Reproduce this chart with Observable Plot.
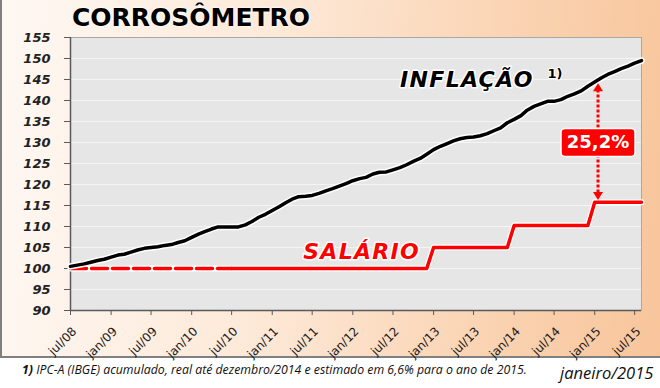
<!DOCTYPE html>
<html><head><meta charset="utf-8">
<script src="https://cdn.jsdelivr.net/npm/d3@7"></script>
<script src="https://cdn.jsdelivr.net/npm/@observablehq/plot@0.6"></script>
<style>
html,body{margin:0;padding:0;background:#fff;}
#wrap{position:relative;width:660px;height:388px;overflow:hidden;}
#box{position:absolute;left:0;top:0;width:658px;height:356px;border-left:2px solid #808080;border-bottom:2px solid #808080;
 background:linear-gradient(95deg,#fef8f3 0%,#fde9d8 40%,#fad3b2 75%,#f8c59b 100%);}
#title{position:absolute;left:72px;top:3px;font-family:"DejaVu Sans";font-weight:bold;font-size:25px;color:#000;text-shadow:0 0 3px #fff,0 0 2px #fff;white-space:nowrap;}
#chart{position:absolute;left:0;top:0;}
#note{position:absolute;left:22px;top:361px;font-family:"Open Sans";font-style:italic;font-size:12.3px;color:#111;white-space:nowrap;}
#date{position:absolute;left:560px;top:361px;font-family:"Open Sans";font-style:italic;font-size:16.5px;color:#111;white-space:nowrap;}
svg text{paint-order:stroke;}
</style></head>
<body>
<div id="wrap">
 <div id="box"></div>
 <div id="chart"></div>
 <div id="title">CORROSÔMETRO</div>
 <div id="note"><b>1)</b> IPC-A (IBGE) acumulado, real até dezembro/2014 e estimado em 6,6% para o ano de 2015.</div>
 <div id="date">janeiro/2015</div>
</div>
<script>
// ---- data ----
const firstMonth = "2008-07";
const lastMonth = "2015-08";
const inflation = [
 100.5,100.8,101.1,101.5,101.9,102.2,
 102.7,103.2,103.4,103.9,104.4,104.8,105.0,105.2,105.5,105.7,106.2,106.6,
 107.4,108.2,108.8,109.4,109.9,109.9,109.9,109.9,110.4,111.2,112.2,112.9,
 113.8,114.7,115.6,116.5,117.1,117.2,117.4,117.9,118.5,119.0,119.6,120.2,
 120.9,121.4,121.7,122.5,122.9,123.0,123.5,124.0,124.7,125.5,126.2,127.2,
 128.3,129.1,129.7,130.4,130.9,131.2,131.3,131.6,132.1,132.8,133.5,134.7,
 135.5,136.4,137.7,138.6,139.2,139.8,139.8,140.2,141.0,141.6,142.3,143.4,
 144.4,145.4,146.2,146.9,147.6,148.2,148.9,149.5
];
const salaryMonths = ["2008-07","2010-07","2012-12","2013-01","2013-12","2014-01","2014-12","2015-01","2015-08"];
const salaryValues = [100,100,100,105,105,110.25,110.25,115.76,115.76];
const gapLabel = "25,2%";
const xTickLabels = ["jul/08","jan/09","jul/09","jan/10","jul/10","jan/11","jul/11","jan/12","jul/12","jan/13","jul/13","jan/14","jul/14","jan/15","jul/15"];
const yTicks = [90,95,100,105,110,115,120,125,130,135,140,145,150,155];

// ---- helpers ----
const parseMonth = s => { const [y,m] = s.split("-").map(Number); return new Date(Date.UTC(y, m-1, 1)); };
const monIdx = {jan:0, jul:6};
const parseTick = s => { const [m,y] = s.split("/"); return new Date(Date.UTC(2000+ +y, monIdx[m], 1)); };
const d0 = parseMonth(firstMonth), dEnd = parseMonth(lastMonth);
const infl = inflation.map((v,i) => ({date: d3.utcMonth.offset(d0, i), value: v}));
const sal = salaryMonths.map((m,i) => ({date: parseMonth(m), value: salaryValues[i]}));
const salDashed = sal.slice(0,2), salSolid = sal.slice(1);
const xTicks = xTickLabels.map(parseTick);
const arrowDate = new Date(Date.UTC(2015,0,16));

const badge = {draw(ctx){ const w=37, h=14, r=4;
  ctx.moveTo(-w+r,-h); ctx.arcTo(w,-h,w,h,r); ctx.arcTo(w,h,-w,h,r); ctx.arcTo(-w,h,-w,-h,r); ctx.arcTo(-w,-h,w,-h,r); ctx.closePath(); }};
const headUp = {draw(ctx){ ctx.moveTo(0,0); ctx.lineTo(5,8); ctx.lineTo(-5,8); ctx.closePath(); }};
const headDown = {draw(ctx){ ctx.moveTo(0,0); ctx.lineTo(5,-8); ctx.lineTo(-5,-8); ctx.closePath(); }};
const RED = "#ff0000";

const chart = Plot.plot({
  width: 660, height: 358,
  marginLeft: 70, marginRight: 19, marginTop: 37, marginBottom: 48,
  style: {background: "transparent", overflow: "visible"},
  x: {type: "utc", domain: [d0, dEnd], label: null},
  y: {domain: [90, 155], label: null},
  marks: [
    Plot.frame({fill: "#e6e6e6", stroke: null}),
    Plot.ruleY(yTicks, {stroke: "#f4f4f4", strokeWidth: 1}),
    Plot.frame({stroke: "#a8a8a8"}),
    Plot.ruleX([d0], {stroke: "#5a5a5a", strokeWidth: 1.5}),
    Plot.ruleY([90], {stroke: "#5a5a5a", strokeWidth: 1.5}),
    Plot.axisY({ticks: yTicks, tickSize: 6, tickFormat: () => "", stroke: "#5a5a5a", label: null}),
    Plot.axisX({ticks: xTicks, tickSize: 5, tickFormat: () => "", stroke: "#5a5a5a", label: null}),
    Plot.text(yTicks, {y: d => d, text: d => String(d), frameAnchor: "left", dx: -20, textAnchor: "end",
      fontSize: 13, fontWeight: "bold", fontStyle: "italic", fontFamily: "DejaVu Sans", fill: "#222"}),
    Plot.text(xTicks, {x: d => d, text: (d,i) => xTickLabels[i], frameAnchor: "bottom", rotate: -45,
      textAnchor: "end", lineAnchor: "middle", dx: 4, dy: 19, fontSize: 12, fontFamily: "DejaVu Sans", fill: "#1a1a1a"}),
    // salary
    Plot.line(sal, {x: "date", y: "value", stroke: "#fff", strokeWidth: 6}),
    Plot.line(salDashed, {x: "date", y: "value", stroke: RED, strokeWidth: 3.5, strokeDasharray: "16,5"}),
    Plot.line(salSolid, {x: "date", y: "value", stroke: RED, strokeWidth: 3.5}),
    // inflation
    Plot.line(infl, {x: "date", y: "value", stroke: "#fff", strokeWidth: 6.5}),
    Plot.line(infl, {x: "date", y: "value", stroke: "#000", strokeWidth: 3.5}),
    // labels
    Plot.text(["INFLAÇÃO"], {x: new Date(Date.UTC(2013,5,1)), y: 144.8, text: d => d, fontSize: 22, fontWeight: "bold",
      fontStyle: "italic", fontFamily: "DejaVu Sans", fill: "#000", stroke: "#fff", strokeWidth: 3}),
    Plot.text(["1)"], {x: new Date(Date.UTC(2014,6,5)), y: 146.3, text: d => d, fontSize: 13, fontWeight: "bold",
      fontFamily: "DejaVu Sans", fill: "#000", stroke: "#fff", strokeWidth: 2}),
    Plot.text(["SALÁRIO"], {x: new Date(Date.UTC(2012,1,10)), y: 104.0, text: d => d, fontSize: 22, fontWeight: "bold",
      fontStyle: "italic", fontFamily: "DejaVu Sans", fill: RED, stroke: "#fff", strokeWidth: 3}),
    // gap arrow
    Plot.ruleX([arrowDate], {x: d => d, y1: 142.5, y2: 117.8, stroke: RED, strokeWidth: 3, strokeDasharray: "3,2"}),
    Plot.dot([arrowDate], {x: d => d, y: 144.1, symbol: headUp, r: 5, fill: RED, stroke: null}),
    Plot.dot([arrowDate], {x: d => d, y: 116.3, symbol: headDown, r: 5, fill: RED, stroke: null}),
    Plot.dot([arrowDate], {x: d => d, y: 130.0, symbol: badge, r: 5, fill: RED, stroke: "#fff", strokeWidth: 1.5}),
    Plot.text([gapLabel], {x: arrowDate, y: 130.0, text: d => d, fontSize: 18, fontWeight: "bold",
      fontFamily: "DejaVu Sans", fill: "#fff"})
  ]
});
d3.select(chart).selectAll("text")
  .filter(function(){ const t = this.textContent; return t === "INFLAÇÃO" || t === "SALÁRIO"; })
  .style("letter-spacing", "1.3px");
document.getElementById("chart").appendChild(chart);
</script>
</body></html>
